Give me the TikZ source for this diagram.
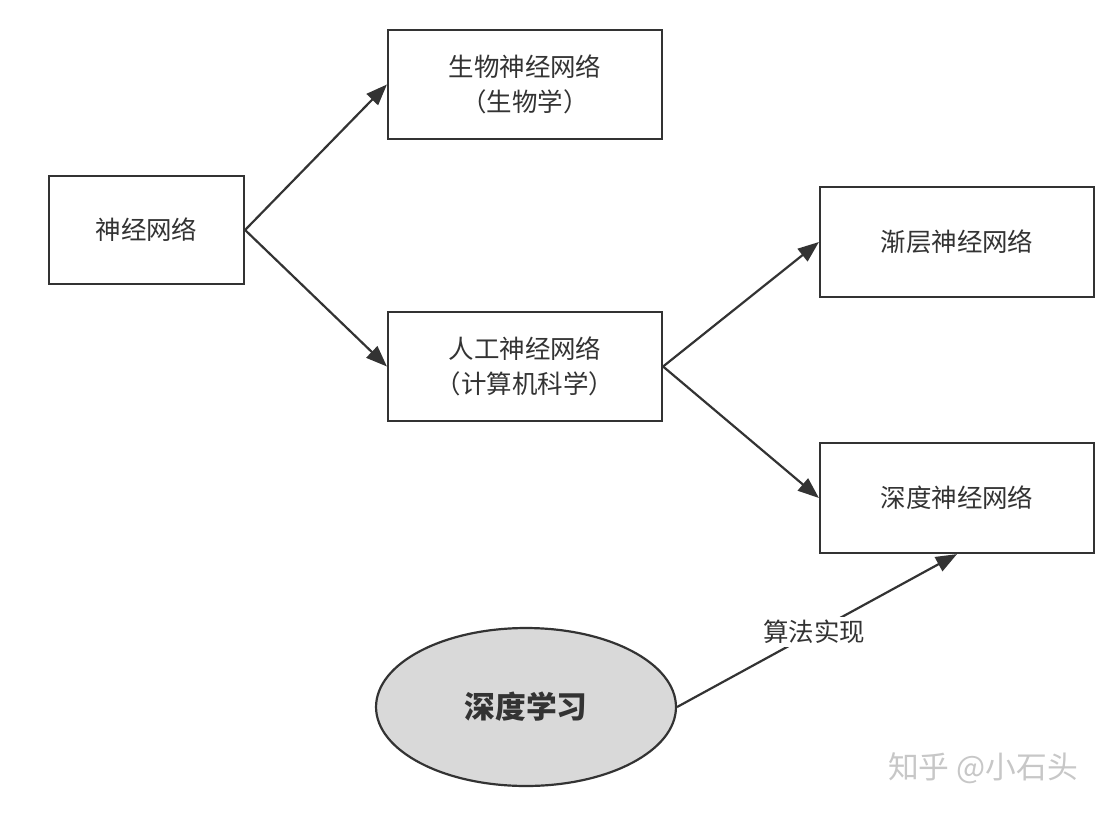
\documentclass[tikz,border=0pt]{standalone}
\usepackage{fontspec}
\setmainfont{Noto Sans CJK SC}
\usetikzlibrary{arrows.meta,shapes.geometric}
\definecolor{ln}{HTML}{333333}
\definecolor{ellfill}{HTML}{D9D9D9}
\tikzset{
  box/.style={draw=ln, line width=1.25pt, minimum width=#1, inner sep=0pt, align=center, text=ln, font=\fontsize{14.5pt}{20pt}\selectfont},
  conn/.style={draw=ln, line width=1.25pt, -{Triangle[length=12pt,width=9pt]}},
}
\begin{document}
\begin{tikzpicture}[x=0.02cm,y=-0.02cm]
\useasboundingbox (0,0) rectangle (1114,814);
\fill[white] (0,0) rectangle (1114,814);
\node[box=3.9cm, minimum height=2.16cm] (nn) at (146.5,230) {神经网络};
\node[box=5.48cm, minimum height=2.18cm] (bio) at (525,84.5) {生物神经网络\\（生物学）};
\node[box=5.48cm, minimum height=2.18cm] (ann) at (525,366.5) {人工神经网络\\（计算机科学）};
\node[box=5.48cm, minimum height=2.2cm] (shallow) at (957,242) {渐层神经网络};
\node[box=5.48cm, minimum height=2.2cm] (dnn) at (957,498) {深度神经网络};
\node[ellipse, draw=ln, fill=ellfill, line width=1.25pt, minimum width=6.0cm, minimum height=3.16cm, inner sep=0pt, text=ln, font=\fontsize{17.5pt}{20pt}\selectfont\bfseries] (dl) at (526,707) {深度学习};
\draw[conn] (nn.east) -- (bio.west);
\draw[conn] (nn.east) -- (ann.west);
\draw[conn] (ann.east) -- (shallow.west);
\draw[conn] (ann.east) -- (dnn.west);
\draw[conn] (dl.east) -- node[pos=0.49, fill=white, inner sep=2pt, text=ln, font=\fontsize{14.5pt}{18pt}\selectfont] (lbl) {算法实现} (dnn.south);
\node[text=black!22, font=\fontsize{17.5pt}{18pt}\selectfont, anchor=center] (wm) at (983,768) {知乎 @小石头};
\end{tikzpicture}
\end{document}
